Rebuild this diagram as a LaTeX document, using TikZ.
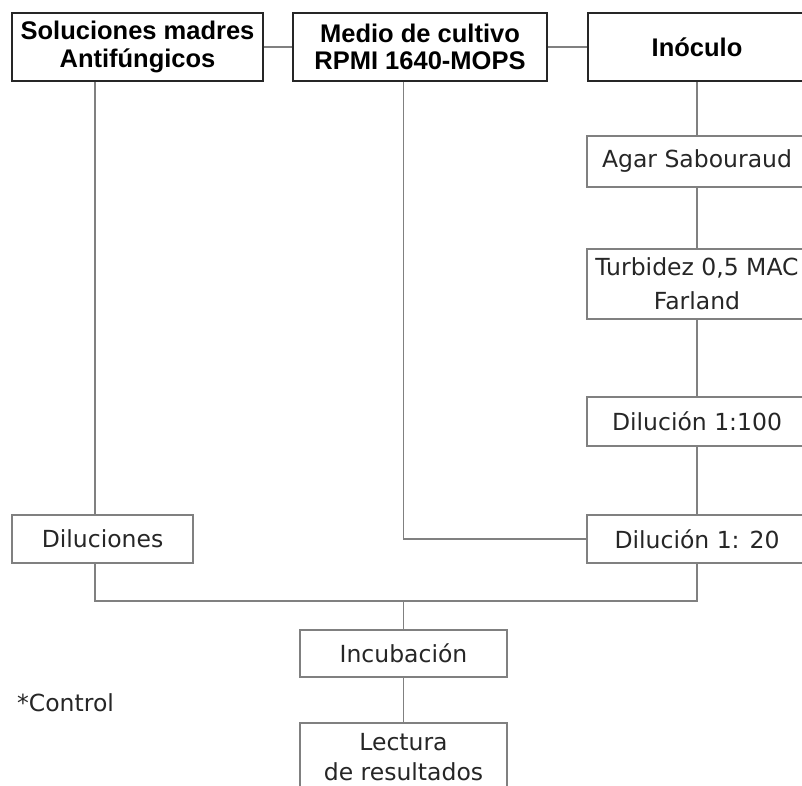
\documentclass[tikz,border=0pt]{standalone}
\usepackage{fontspec}
\setmainfont{DejaVu Sans}
\newfontfamily\hdrfont{Liberation Sans}
\begin{document}
\begin{tikzpicture}[x=1pt,y=-1pt,
  hdr/.style={draw=black!85, line width=2pt, minimum height=68pt, inner sep=0pt, align=center,
    font=\hdrfont\bfseries\fontsize{25.5}{27.5}\selectfont, text=black},
  stepbox/.style={draw=black!50, line width=1.3pt, inner sep=0pt, align=center,
    font=\fontsize{23.5}{30}\selectfont, text=black!85},
  link/.style={draw=black!50, line width=1.3pt}]
\useasboundingbox (0,0) rectangle (802,785);
\clip (0,0) rectangle (802,785);
\fill[white] (0,0) rectangle (802,785);

\node[hdr, minimum width=251pt] (sol) at (137.5,47) {Soluciones madres\\Antifúngicos};
\node[hdr, minimum width=254pt] (med) at (420,47) {Medio de cultivo\\RPMI 1640-MOPS};
\node[hdr, minimum width=218pt] (ino) at (697,47) {Inóculo};

\node[stepbox, minimum width=220pt, minimum height=51pt] (agar) at (697,161.5) {Agar Sabouraud};
\node[stepbox, minimum width=220pt, minimum height=70pt] (turb) at (697,284) {Turbidez 0,5 MAC\\[4pt]Farland};
\node[stepbox, minimum width=220pt, minimum height=49pt] (d100) at (697,421.5) {Dilución 1:100};
\node[stepbox, minimum width=220pt, minimum height=48pt] (d20) at (697,539) {Dilución 1: 20};
\node[stepbox, minimum width=181pt, minimum height=48pt] (dil) at (102.5,539) {Diluciones};
\node[stepbox, minimum width=207pt, minimum height=47pt] (inc) at (403.5,653.5) {Incubación};
\node[stepbox, minimum width=207pt, minimum height=68pt] (lec) at (403.5,757) {Lectura\\de resultados};
\node[font=\fontsize{23.5}{30}\selectfont, text=black!85, anchor=west, inner sep=0pt] (ctl) at (17,703) {*Control};

\coordinate (jl) at (95,601);
\coordinate (jm) at (403.5,601);
\coordinate (jr) at (697,601);

\draw[link] (sol.east) -- (med.west);
\draw[link] (med.east) -- (ino.west);
\draw[link] (sol.south -| jl) -- (dil.north -| jl);
\draw[link] (med.south -| inc.north) -- (inc.north |- d20.west) -- (d20.west);
\draw[link] (ino.south) -- (agar.north);
\draw[link] (agar.south) -- (turb.north);
\draw[link] (turb.south) -- (d100.north);
\draw[link] (d100.south) -- (d20.north);
\draw[link] (dil.south -| jl) -- (jl) -- (jr) -- (d20.south);
\draw[link] (jm) -- (inc.north);
\draw[link] (inc.south) -- (lec.north);
\end{tikzpicture}
\end{document}
